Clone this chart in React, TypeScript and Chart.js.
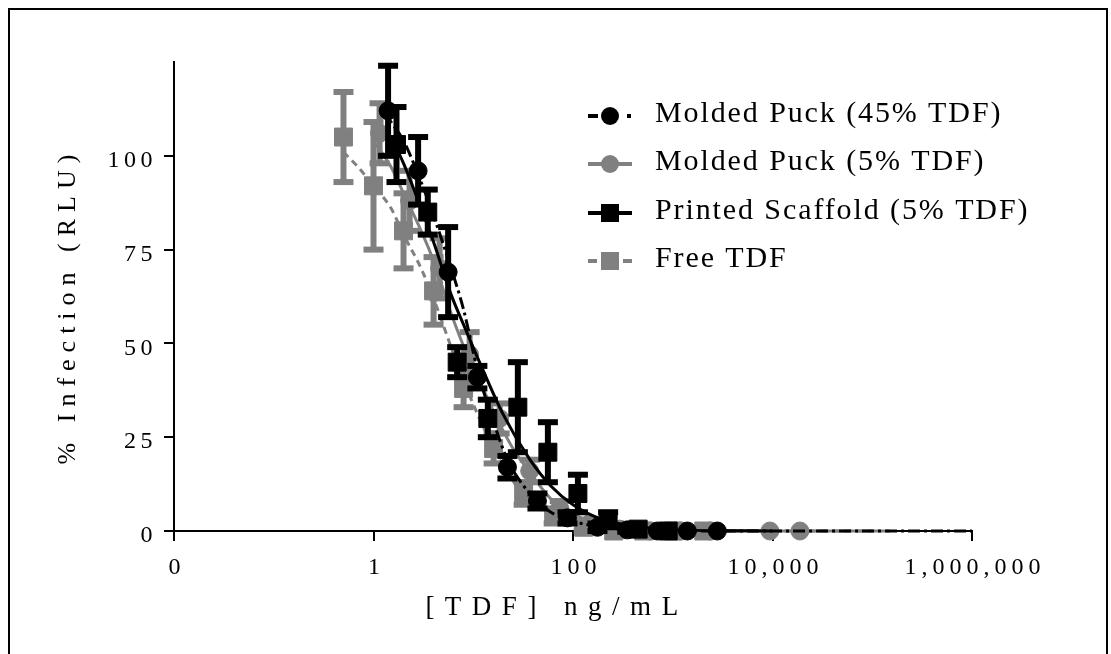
import React, { useEffect, useRef } from 'react';
import { Chart, registerables } from 'chart.js';

Chart.register(...registerables);

const FONT = "'Liberation Serif', 'Times New Roman', serif";
const BLACK = '#000000';
const GRAY = '#808080';

// ---- axis ticks ----
const xTickValues = [0.01, 1, 100, 10000, 1000000];
const xTickLabels = ['0', '1', '100', '10,000', '1,000,000'];
const yTickValues = [0, 25, 50, 75, 100];

// ---- legend labels ----
const seriesLabels = [
  'Molded Puck (45% TDF)',
  'Molded Puck (5% TDF)',
  'Printed Scaffold (5% TDF)',
  'Free TDF',
];

// ---- Molded Puck (45% TDF) : black circles ----
const puck45X = [1.4, 2.8, 5.6, 11, 22, 44, 88, 176, 350, 700, 1400, 2800];
const puck45Y = [112, 96, 69, 41, 17, 8, 3.5, 1, 0.3, 0, 0, 0];
const puck45Err = [12, 9, 12, 3, 3, 2, 1.5, 1, 0.5, 0, 0, 0];

// ---- Molded Puck (5% TDF) : gray circles ----
const puck5X = [1.15, 2.3, 4.6, 9.2, 18.4, 36.8, 73.6, 147, 294, 589, 1178, 2355, 9420, 18840];
const puck5Y = [106, 88, 70, 47, 30, 16, 6, 2, 0.5, 0, 0, 0, 0, 0];
const puck5Err = [8, 8, 8, 6, 4, 3, 2, 1, 0, 0, 0, 0, 0, 0];

// ---- Printed Scaffold (5% TDF) : black squares ----
const scaffoldX = [1.7, 3.5, 6.9, 14, 28, 56, 112, 225, 450, 900];
const scaffoldY = [103, 85, 45, 30, 33, 21, 10, 3, 0.5, 0];
const scaffoldErr = [10, 6, 4, 5, 12, 8, 5, 2, 0, 0];

// ---- Free TDF : gray squares ----
const freeX = [0.5, 1, 2, 4, 8, 16, 32, 64, 128, 256, 512, 1024, 2048];
const freeY = [105, 92, 80, 64, 38, 22, 10, 4, 1, 0, 0, 0, 0];
const freeErr = [12, 17, 10, 9, 5, 4, 3, 2, 1, 0, 0, 0, 0];

// ---- fitted curves ----
const fit45X = [1.2, 1.5, 2, 3, 4, 6, 8, 11, 16, 22, 30, 44, 60, 90, 150, 300, 1000, 1000000];
const fit45Y = [113, 109, 104, 93, 84, 70, 59, 43, 29, 19, 13, 8, 5, 3, 1.5, 0.5, 0, 0];

const fit5X = [1, 1.5, 2, 3, 4, 6, 9, 13, 18, 25, 36, 50, 75, 110, 200, 500, 2000, 150000];
const fit5Y = [104, 97, 90, 80, 72, 58, 46, 37, 29, 22, 16, 11, 6, 4, 1.5, 0.3, 0, 0];

const fitScaffoldX = [1.5, 2, 3, 4, 6, 8, 12, 20, 37, 60, 100, 200, 500, 1000, 10000];
const fitScaffoldY = [105, 98, 86, 77, 63, 55, 44, 31, 19, 12, 7, 3, 1, 0.3, 0];

const fitFreeX = [0.5, 0.7, 1, 1.5, 2, 3, 4, 6, 8, 12, 16, 24, 32, 50, 64, 100, 200, 500, 100000];
const fitFreeY = [101, 97, 92, 86, 79, 70, 62, 49, 40, 29, 22, 14, 10, 5.5, 4, 2, 0.6, 0, 0];

const pts = (xs: number[], ys: number[]) => xs.map((x, i) => ({ x, y: ys[i] }));

const DASH_45 = [12, 4, 3, 4];
const DASH_FREE = [7, 5];

const pointSet = (label: string, xs: number[], ys: number[], errs: number[], color: string, style: string) => ({
  label,
  data: pts(xs, ys),
  errors: errs,
  backgroundColor: color,
  borderColor: color,
  borderWidth: 1,
  pointStyle: style,
  pointRadius: style === 'rect' ? 12.7 : 9,
  pointHoverRadius: style === 'rect' ? 12.7 : 9,
  showLine: false,
  clip: false,
});

const fitSet = (xs: number[], ys: number[], color: string, dash: number[]) => ({
  label: 'fit',
  data: pts(xs, ys),
  borderColor: color,
  backgroundColor: color,
  borderWidth: 3,
  borderDash: dash,
  pointRadius: 0,
  showLine: true,
  tension: 0.4,
  cubicInterpolationMode: 'monotone',
  clip: false,
});

const spacingPlugin = {
  id: 'letterSpacing',
  beforeDraw(chart: any) {
    const apply = (scale: any, labelSp: string, titleSp: string, tx: number, ty: number) => {
      if (!scale || scale.__wrapped) return;
      scale.__wrapped = true;
      const dl = scale.drawLabels;
      const dt = scale.drawTitle;
      scale.drawLabels = function (area: any) {
        const c = this.ctx;
        c.save();
        c.letterSpacing = labelSp;
        dl.call(this, area);
        c.restore();
      };
      scale.drawTitle = function () {
        const c = this.ctx;
        c.save();
        c.letterSpacing = titleSp;
        c.translate(tx, ty);
        dt.call(this);
        c.restore();
      };
    };
    apply(chart.scales.x, '5px', '10.5px', -16, 0);
    apply(chart.scales.y, '4.5px', '7px', 0, 9.5);
  },
};

const errorBarPlugin = {
  id: 'errorBars',
  beforeDatasetDraw(chart: any, args: any) {
    const ds = chart.data.datasets[args.index];
    const errs: number[] | undefined = ds.errors;
    if (!errs) return;
    const yS = chart.scales.y;
    const ctx = chart.ctx;
    ctx.save();
    ctx.fillStyle = ds.backgroundColor;
    args.meta.data.forEach((pt: any, i: number) => {
      const e = errs[i];
      if (!e) return;
      const v = ds.data[i].y;
      const top = yS.getPixelForValue(v + e);
      const bot = yS.getPixelForValue(v - e);
      ctx.fillRect(pt.x - 3, top, 6, bot - top);
      ctx.fillRect(pt.x - 10, top - 3, 20, 6);
      ctx.fillRect(pt.x - 10, bot - 3, 20, 6);
    });
    ctx.restore();
  },
};

const legendSpec = [
  { label: seriesLabels[0], color: BLACK, marker: 'circle', kind: 'dashdot' },
  { label: seriesLabels[1], color: GRAY, marker: 'circle', kind: 'solid' },
  { label: seriesLabels[2], color: BLACK, marker: 'rect', kind: 'solid' },
  { label: seriesLabels[3], color: GRAY, marker: 'rect', kind: 'dashed' },
];

const legendPlugin = {
  id: 'customLegend',
  afterDraw(chart: any) {
    const ctx = chart.ctx;
    const x0 = 578, x1 = 622, mx = 600, tx = 645;
    const rows = [104, 152, 201, 249];
    ctx.save();
    legendSpec.forEach((it, i) => {
      const y = rows[i];
      const my = y + 2;
      ctx.fillStyle = it.color;
      ctx.strokeStyle = it.color;
      ctx.lineWidth = 4;
      ctx.beginPath();
      if (it.kind === 'solid') {
        ctx.moveTo(x0, my); ctx.lineTo(x1, my);
      } else if (it.kind === 'dashdot') {
        ctx.moveTo(x0, my); ctx.lineTo(x0 + 10, my);
        ctx.moveTo(x1 - 5, my); ctx.lineTo(x1 - 1, my);
      } else {
        ctx.moveTo(x0, my); ctx.lineTo(x0 + 9, my);
        ctx.moveTo(x1 - 9, my); ctx.lineTo(x1, my);
      }
      ctx.stroke();
      if (it.marker === 'circle') {
        ctx.beginPath();
        ctx.arc(mx, my, 9, 0, Math.PI * 2);
        ctx.fill();
      } else {
        ctx.fillRect(mx - 9, my - 9, 18, 18);
      }
      ctx.letterSpacing = '1.9px';
      ctx.font = `30px ${FONT}`;
      ctx.fillStyle = '#000';
      ctx.textBaseline = 'middle';
      ctx.textAlign = 'left';
      ctx.fillText(it.label, tx, y);
      ctx.letterSpacing = '0px';
    });
    ctx.restore();
  },
};

export default function App() {
  const ref = useRef<HTMLCanvasElement | null>(null);

  useEffect(() => {
    if (!ref.current) return;
    const datasets: any[] = [
      pointSet(seriesLabels[0], puck45X, puck45Y, puck45Err, BLACK, 'circle'),
      pointSet(seriesLabels[2], scaffoldX, scaffoldY, scaffoldErr, BLACK, 'rect'),
      fitSet(fit45X, fit45Y, BLACK, DASH_45),
      fitSet(fitScaffoldX, fitScaffoldY, BLACK, []),
      fitSet(fit5X, fit5Y, GRAY, []),
      fitSet(fitFreeX, fitFreeY, GRAY, DASH_FREE),
      pointSet(seriesLabels[1], puck5X, puck5Y, puck5Err, GRAY, 'circle'),
      pointSet(seriesLabels[3], freeX, freeY, freeErr, GRAY, 'rect'),
    ];

    const chart = new Chart(ref.current, {
      type: 'scatter',
      data: { datasets },
      options: {
        responsive: false,
        animation: false,
        layout: { padding: { left: 0, right: 134, top: 52, bottom: 0 } },
        plugins: {
          legend: { display: false },
          tooltip: { enabled: false },
        },
        scales: {
          x: {
            type: 'logarithmic',
            min: 0.01,
            max: 1000000,
            afterBuildTicks: (s: any) => {
              s.ticks = xTickValues.map((v) => ({ value: v }));
            },
            afterFit: (s: any) => {
              s.height = 123;
            },
            grid: {
              display: true,
              drawOnChartArea: false,
              drawTicks: true,
              tickLength: 10,
              color: BLACK,
              lineWidth: 2,
            },
            border: { display: true, color: BLACK, width: 2 },
            ticks: {
              autoSkip: false,
              maxRotation: 0,
              minRotation: 0,
              padding: 12.2,
              labelOffset: 3,
              color: '#000',
              font: { family: FONT, size: 24 },
              callback: (value: any) => {
                const idx = xTickValues.findIndex((v) => Math.abs(Math.log10(v) - Math.log10(Number(value))) < 1e-6);
                return idx >= 0 ? xTickLabels[idx] : '';
              },
            },
            title: {
              display: true,
              text: '[TDF] ng/mL',
              color: '#000',
              font: { family: FONT, size: 27 },
              padding: { top: 0, bottom: 30 },
            },
          },
          y: {
            type: 'linear',
            min: 0,
            max: 125,
            afterBuildTicks: (s: any) => {
              s.ticks = yTickValues.map((v) => ({ value: v }));
            },
            afterFit: (s: any) => {
              s.width = 164;
            },
            grid: {
              display: true,
              drawOnChartArea: false,
              drawTicks: true,
              tickLength: 10,
              color: BLACK,
              lineWidth: 2,
            },
            border: { display: true, color: BLACK, width: 2 },
            ticks: {
              padding: 7,
              labelOffset: 5,
              color: '#000',
              font: { family: FONT, size: 24 },
              callback: (value: any) => String(value),
            },
            title: {
              display: true,
              text: '% Infection (RLU)',
              color: '#000',
              font: { family: FONT, size: 26 },
              padding: { top: 43, bottom: 0 },
            },
          },
        },
      } as any,
      plugins: [spacingPlugin, errorBarPlugin, legendPlugin],
    });
    return () => chart.destroy();
  }, []);

  return (
    <div
      style={{
        position: 'absolute',
        left: 8,
        top: 8,
        width: 1100,
        height: 646,
        boxSizing: 'border-box',
        borderTop: '2px solid #000',
        borderLeft: '2px solid #000',
        borderRight: '2px solid #000',
        background: '#fff',
      }}
    >
      <canvas ref={ref} width={1096} height={644} style={{ display: 'block', width: 1096, height: 644 }} />
    </div>
  );
}
